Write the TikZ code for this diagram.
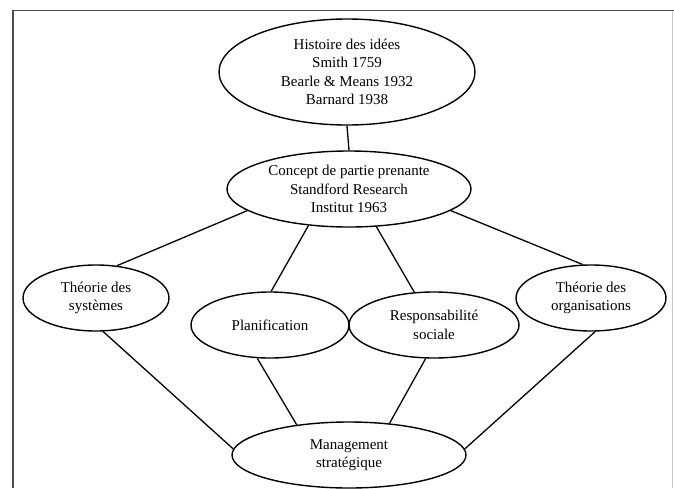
\documentclass[tikz,border=0pt]{standalone}
\usepackage{fontspec}
\setmainfont{Liberation Serif}
\usetikzlibrary{shapes.geometric}
\begin{document}
\begin{tikzpicture}[x=1pt,y=-1pt,
    every node/.style={font=\fontsize{15}{18.5}\selectfont},
    bulle/.style={draw,ellipse,line width=1.4pt,inner sep=0pt,align=center},
    lien/.style={line width=1.3pt}]
\useasboundingbox (0,0) rectangle (674,488);
\draw[line width=1.5pt,black!70] (13,488) -- (13,10.5) -- (674,10.5);
\draw[line width=1pt,black!20] (672,10.5) -- (672,488);
\node[bulle,minimum width=256pt,minimum height=106pt] (hist) at (347,72)
    {Histoire des idées\\Smith 1759\\Bearle \& Means 1932\\Barnard 1938};
\node[bulle,minimum width=244pt,minimum height=76pt] (concept) at (349,189)
    {Concept de partie prenante\\Standford Research\\Institut 1963};
\node[bulle,minimum width=146pt,minimum height=66pt] (sys) at (96,298)
    {Théorie des\\systèmes};
\node[bulle,minimum width=158pt,minimum height=66pt] (plan) at (270,325)
    {Planification};
\node[bulle,minimum width=170pt,minimum height=66pt] (resp) at (434,325)
    {Responsabilité\\sociale};
\node[bulle,minimum width=150pt,minimum height=66pt] (org) at (591,298)
    {Théorie des\\organisations};
\node[bulle,minimum width=234pt,minimum height=66pt] (mgmt) at (349,455)
    {Management\\stratégique};
\draw[lien] (hist.south) -- (concept.north);
\draw[lien] (concept.192) -- (sys.57);
\draw[lien] (concept.222) -- (plan.88);
\draw[lien] (concept.306) -- (resp.121);
\draw[lien] (concept.348) -- (org.104);
\draw[lien] (sys.282) -- (mgmt.177);
\draw[lien] (plan.249) -- (mgmt.150);
\draw[lien] (resp.256) -- (mgmt.38);
\draw[lien] (org.277) -- (mgmt.3);
\end{tikzpicture}
\end{document}
